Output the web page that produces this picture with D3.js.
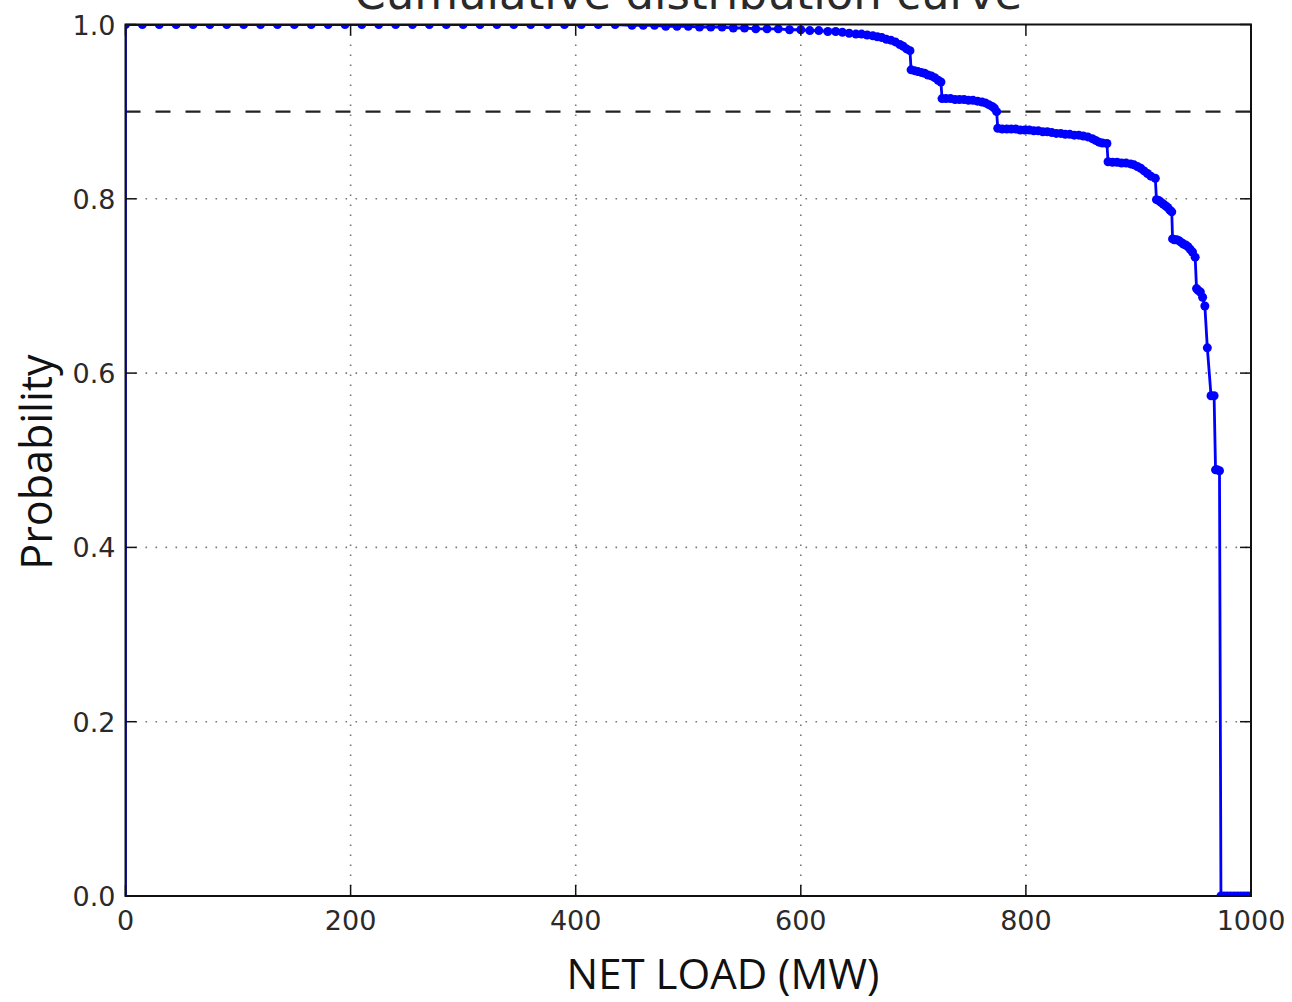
<!DOCTYPE html>
<html>
<head>
<meta charset="utf-8">
<script src="https://cdn.jsdelivr.net/npm/d3@7"></script>
<style>
  body { margin: 0; background: #fff; }
  svg { display: block; }
</style>
</head>
<body>
<svg id="chart"></svg>
<script>
const WIDTH = 1292;
const HEIGHT = 1002;

// net load (MW) and exceedance probability
const LOAD_MW = [0, 0, 15, 30, 45, 60, 75, 90, 105, 120, 135, 150, 165, 180, 195, 210, 225,
  240, 255, 270, 285, 300, 315, 330, 345, 360, 375, 390, 405, 420, 435,
  450, 460, 470, 480, 490, 500, 510, 520, 530, 540, 550, 560, 570, 580, 590, 600,
  608, 616, 624, 631, 637, 643, 649, 654, 659, 664, 668, 672, 676, 680, 684, 688, 691, 694, 697,
  698, 701, 704, 707, 710, 713, 716, 719, 722, 724.5,
  725.5, 729, 733, 737, 741, 745, 749, 753, 757, 761, 764, 767, 770, 772, 774,
  775, 779, 783, 787, 791, 795, 799, 803, 807, 811, 815, 819, 823, 827, 831, 835, 839, 843,
  847, 851, 855, 859, 862, 865, 868, 872,
  873, 877, 881, 885, 889, 893, 896, 899, 902, 905, 908, 911, 915,
  916, 918, 920, 922, 924, 926, 928, 929.6,
  930.3, 932, 934, 936, 938, 940, 942, 944, 946, 948, 950.4,
  951.6, 953, 955, 957, 959, 961.2, 964.5, 967.2, 968.5, 970, 972,
  973.3, 976, 979, 982, 985, 988, 991, 994, 997, 1000];
const PROBABILITY = [0, 1.0, 1.0, 1.0, 1.0, 1.0, 1.0, 1.0, 1.0, 1.0, 1.0, 1.0, 1.0, 1.0, 1.0, 1.0, 1.0,
  1.0, 1.0, 1.0, 1.0, 1.0, 1.0, 1.0, 1.0, 1.0, 1.0, 1.0, 1.0, 1.0, 1.0,
  0.999, 0.999, 0.999, 0.998, 0.998, 0.998, 0.997, 0.997, 0.997, 0.996, 0.996, 0.995, 0.995, 0.995, 0.994, 0.994,
  0.993, 0.993, 0.992, 0.992, 0.991, 0.990, 0.989, 0.989, 0.988, 0.987, 0.986, 0.985, 0.983, 0.982, 0.980, 0.977, 0.975, 0.972, 0.970,
  0.948, 0.947, 0.946, 0.945, 0.944, 0.942, 0.941, 0.939, 0.936, 0.934,
  0.915, 0.915, 0.915, 0.914, 0.914, 0.914, 0.913, 0.913, 0.912, 0.911, 0.910, 0.908, 0.906, 0.904, 0.900,
  0.881, 0.880, 0.880, 0.880, 0.880, 0.879, 0.879, 0.879, 0.878, 0.878, 0.877, 0.877, 0.876, 0.875, 0.875, 0.874, 0.874, 0.873,
  0.873, 0.872, 0.871, 0.869, 0.867, 0.865, 0.864, 0.8635,
  0.8425, 0.842, 0.842, 0.841, 0.841, 0.840, 0.839, 0.837, 0.835, 0.832, 0.829, 0.826, 0.8235,
  0.799, 0.798, 0.796, 0.794, 0.792, 0.790, 0.787, 0.785,
  0.754, 0.753, 0.753, 0.752, 0.750, 0.748, 0.747, 0.745, 0.742, 0.739, 0.733,
  0.697, 0.695, 0.693, 0.687, 0.677, 0.629, 0.574, 0.574, 0.489, 0.489, 0.488,
  0, 0, 0, 0, 0, 0, 0, 0, 0, 0];

const X_TICKS = [0, 200, 400, 600, 800, 1000];
const Y_TICKS = [0.0, 0.2, 0.4, 0.6, 0.8, 1.0];
const THRESHOLD = 0.9;

const margin = {left: 125.5, right: WIDTH - 1251, top: 24.5, bottom: HEIGHT - 896};

const svg = d3.select('#chart')
              .attr('width', WIDTH)
              .attr('height', HEIGHT);

const x = d3.scaleLinear().domain([0, 1000]).range([margin.left, WIDTH - margin.right]);
const y = d3.scaleLinear().domain([0, 1]).range([HEIGHT - margin.bottom, margin.top]);

const tickFont = 'DejaVu Sans, sans-serif';

svg.append('defs').append('clipPath').attr('id', 'plot-clip')
   .append('rect')
   .attr('x', x(0)).attr('y', y(1))
   .attr('width', x(1000) - x(0)).attr('height', y(0) - y(1));

// grid
const grid = svg.append('g');
grid.selectAll('line.vx').data(X_TICKS.slice(1, -1)).enter().append('line')
    .attr('x1', d => x(d)).attr('x2', d => x(d))
    .attr('y1', y(0)).attr('y2', y(1))
    .attr('stroke', '#777').attr('stroke-width', 1.6)
    .attr('stroke-dasharray', '1.6,8.4');
grid.selectAll('line.hy').data(Y_TICKS.slice(1, -1)).enter().append('line')
    .attr('y1', d => y(d)).attr('y2', d => y(d))
    .attr('x1', x(0)).attr('x2', x(1000))
    .attr('stroke', '#777').attr('stroke-width', 1.6)
    .attr('stroke-dasharray', '1.6,8.4');

// threshold line
svg.append('line')
   .attr('x1', x(0)).attr('x2', x(1000))
   .attr('y1', y(THRESHOLD)).attr('y2', y(THRESHOLD))
   .attr('stroke', '#222').attr('stroke-width', 2.4)
   .attr('stroke-dasharray', '15,15');

// curve
const pts = LOAD_MW.map((v, i) => [v, PROBABILITY[i]]);
const plot = svg.append('g').attr('clip-path', 'url(#plot-clip)');
plot.append('path')
    .datum(pts)
    .attr('fill', 'none')
    .attr('stroke', '#0000ff')
    .attr('stroke-width', 2.8)
    .attr('d', d3.line().x(d => x(d[0])).y(d => y(d[1])));
plot.selectAll('circle').data(pts.slice(1)).enter().append('circle')
    .attr('cx', d => x(d[0]))
    .attr('cy', d => y(d[1]))
    .attr('r', 4.5)
    .attr('fill', '#0000ff');

// ticks, inward on all four sides
const tickLen = 11;
const ticks = svg.append('g').attr('stroke', '#111').attr('stroke-width', 1.5);
X_TICKS.forEach(t => {
  ticks.append('line').attr('x1', x(t)).attr('x2', x(t)).attr('y1', y(0)).attr('y2', y(0) - tickLen);
  ticks.append('line').attr('x1', x(t)).attr('x2', x(t)).attr('y1', y(1)).attr('y2', y(1) + tickLen);
});
Y_TICKS.forEach(t => {
  ticks.append('line').attr('y1', y(t)).attr('y2', y(t)).attr('x1', x(0)).attr('x2', x(0) + tickLen);
  ticks.append('line').attr('y1', y(t)).attr('y2', y(t)).attr('x1', x(1000)).attr('x2', x(1000) - tickLen);
});

// frame
svg.append('rect')
   .attr('x', x(0)).attr('y', y(1))
   .attr('width', x(1000) - x(0)).attr('height', y(0) - y(1))
   .attr('fill', 'none').attr('stroke', '#111').attr('stroke-width', 2);

// tick labels
svg.append('g').selectAll('text').data(X_TICKS).enter().append('text')
   .attr('x', d => x(d)).attr('y', y(0) + 34)
   .attr('text-anchor', 'middle')
   .style('font-family', tickFont).style('font-size', '27px').style('fill', '#2a2a2a')
   .text(d => d3.format('d')(d));
svg.append('g').selectAll('text').data(Y_TICKS).enter().append('text')
   .attr('x', x(0) - 10).attr('y', d => y(d) + 10)
   .attr('text-anchor', 'end')
   .style('font-family', tickFont).style('font-size', '27px').style('fill', '#2a2a2a')
   .text(d => d3.format('.1f')(d));

// title, cut off by the top of the image as in the source
svg.append('text')
   .attr('x', (x(0) + x(1000)) / 2).attr('y', 9)
   .attr('text-anchor', 'middle')
   .style('font-family', tickFont).style('font-size', '45px').style('fill', '#2a2a2a')
   .text('Cumulative distribution curve');

// axis labels
svg.append('text')
   .attr('x', 723).attr('y', 989)
   .attr('text-anchor', 'middle')
   .style('font-family', 'Open Sans, sans-serif').style('font-size', '42px').style('fill', '#111')
   .text('NET LOAD (MW)');
svg.append('text')
   .attr('transform', 'translate(52,462) rotate(-90)')
   .attr('text-anchor', 'middle')
   .style('font-family', 'Open Sans, sans-serif').style('font-size', '43px').style('fill', '#111')
   .text('Probability');
</script>
</body>
</html>
